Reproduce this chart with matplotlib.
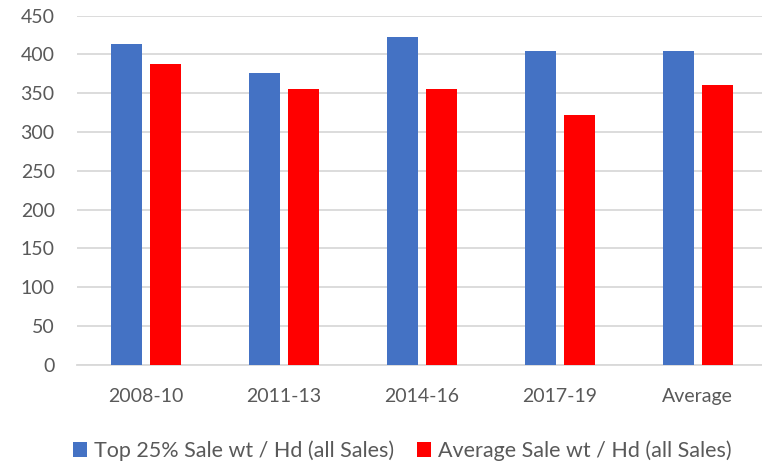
import numpy as np
import matplotlib.pyplot as plt

periods = ['2008-10', '2011-13', '2014-16', '2017-19', 'Average']
top25 = [413, 376, 423, 404, 404]      # Top 25% Sale wt / Hd
avg_sale = [388, 355, 355, 322, 361]   # Average Sale wt / Hd
yticks = np.arange(0, 451, 50)

plt.rcParams['font.family'] = ['Lato', 'DejaVu Sans']
text_col = '#595959'
grid_col = '#D9D9D9'

fig = plt.figure(figsize=(7.62, 4.61), dpi=100)
ax = fig.add_axes([0.101, 0.209, 0.899, 0.757])

x = np.arange(len(periods))
w = 0.225
ax.bar(x - 0.142, top25, w, color='#4472C4', label='Top 25% Sale wt / Hd (all Sales)', zorder=3)
ax.bar(x + 0.142, avg_sale, w, color='#FF0000', label='Average Sale wt / Hd (all Sales)', zorder=3)

ax.set_ylim(0, 450)
ax.set_xlim(-0.499, 4.465)
ax.set_yticks(yticks)
ax.set_xticks(x)
ax.set_xticklabels(periods)
ax.yaxis.grid(True, color=grid_col, linewidth=1.3, zorder=0)
for s in ['top', 'right', 'left']:
    ax.spines[s].set_visible(False)
ax.spines['bottom'].set_color(grid_col)
ax.spines['bottom'].set_linewidth(1.3)
ax.tick_params(axis='both', length=0, labelsize=14, colors=text_col)
ax.tick_params(axis='y', pad=16)
ax.tick_params(axis='x', pad=17)

fig.legend(loc='center', bbox_to_anchor=(0.528, 0.022), ncol=2, frameon=False,
           fontsize=15.5, labelcolor=text_col, handlelength=0.65, handleheight=0.65,
           handletextpad=0.3, columnspacing=1.1)

plt.savefig('out.png', dpi=100)
